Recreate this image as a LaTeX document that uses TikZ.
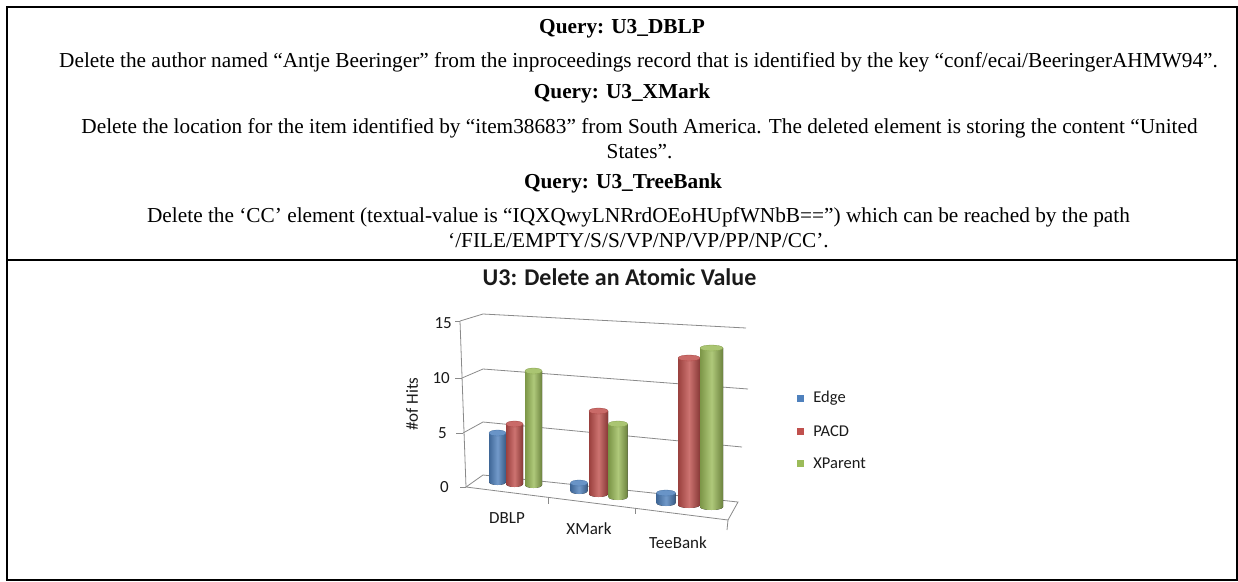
\documentclass[tikz,border=0pt]{standalone}
\usepackage{fontspec}
\setmainfont{Liberation Serif}
\newfontfamily\chartfont{Carlito}
\usetikzlibrary{positioning}
\definecolor{edgeblue}{HTML}{4F81BD}
\definecolor{pacdred}{HTML}{C0504D}
\definecolor{xpgreen}{HTML}{9BBB59}
\definecolor{gridgray}{HTML}{8A8A8A}
\definecolor{ink}{HTML}{1A1A1A}
% one cylinder: centre x, lowest y, highest y, half width, colour
\newcommand{\cyl}[5]{%
  \fill[left color=#5!80!black, right color=#5!70!black, middle color=#5!80!white]
    (#1-#4,#3+3) -- (#1-#4,#2-3) arc[start angle=180, end angle=360, x radius=#4pt, y radius=3pt]
    -- (#1+#4,#3+3) -- cycle;
  \filldraw[fill=#5!85!white, draw=#5!85!black, line width=0.3pt] (#1,#3+3) ellipse[x radius=#4pt, y radius=3pt];
}

\begin{document}
\begin{tikzpicture}[x=1pt, y=-1pt,
    qhead/.style={font=\fontsize{21.3}{25}\selectfont\bfseries, inner sep=0pt},
    qbody/.style={font=\fontsize{21.3}{25}\selectfont, align=center, inner sep=0pt},
    grid/.style={gridgray, line width=0.8pt},
    tick/.style={font=\chartfont\fontsize{17}{20}\selectfont, text=ink, inner sep=0pt},
    legkey/.style={minimum size=7pt, inner sep=0pt},
    legtext/.style={font=\chartfont\fontsize{16.5}{20}\selectfont, text=ink, inner sep=0pt, anchor=west}]
  \useasboundingbox (0,0) rectangle (1238,581);

  % table frame
  \draw[line width=1.3pt] (7,7) rectangle (1237,580);
  \draw[line width=1.3pt] (7,260) -- (1237,260);

  % query descriptions
  \node[qhead] (q1) at (622,29) {Query: U3\_DBLP};
  \node[qbody] (d1) at (638.5,62) {Delete the author named “Antje Beeringer” from the inproceedings record that is identified by the key “conf/ecai/BeeringerAHMW94”.};
  \node[qhead] (q2) at (622,93) {Query: U3\_XMark};
  \node[qbody] (d2) at (639.5,138.5) {Delete the location for the item identified by “item38683” from South America. The deleted element is storing the content “United\\ States”.};
  \node[qhead] (q3) at (623,183) {Query: U3\_TreeBank};
  \node[qbody] (d3) at (638.5,227.5) {Delete the ‘CC’ element (textual-value is “IQXQwyLNRrdOEoHUpfWNbB==”) which can be reached by the path\\ ‘/FILE/EMPTY/S/S/VP/NP/VP/PP/NP/CC’.};

  % chart
  \node[font=\chartfont\fontsize{24}{28}\selectfont\bfseries, text=ink, inner sep=0pt] (title) at (619.5,277) {U3: Delete an Atomic Value};

  % walls and floor
  \draw[grid] (460,321) -- (466,487);
  \draw[grid] (460,321) -- (483,314) -- (746,328);
  \draw[grid] (462,378) -- (483,369) -- (748,389);
  \draw[grid] (463,433) -- (483,422) -- (742,447);
  \draw[grid] (466,487) -- (483,475) -- (738,502) -- (728,520) -- cycle;
  \draw[grid] (455,321) -- (460,321);
  \draw[grid] (455,378) -- (462,378);
  \draw[grid] (456,433) -- (463,433);
  \draw[grid] (460,487) -- (466,487);
  \draw[grid] (548,498) -- (548,504);
  \draw[grid] (635,508) -- (635,514);
  \draw[grid] (728,520) -- (727,530);

  \node[tick, anchor=east] (v15) at (452,323) {15};
  \node[tick, anchor=east] (v10) at (450,378) {10};
  \node[tick, anchor=east] (v5) at (447,433) {5};
  \node[tick, anchor=east] (v0) at (449,487) {0};
  \node[tick, rotate=90] (ylab) at (412,404) {\#of Hits};

  % bars
  \cyl{497.5}{485}{430}{8.5}{edgeblue}
  \cyl{514.5}{487}{421}{8.5}{pacdred}
  \cyl{533.5}{488}{368}{8.5}{xpgreen}
  \cyl{579}{494}{480}{8.5}{edgeblue}
  \cyl{598.5}{497}{408}{9.5}{pacdred}
  \cyl{618}{500}{421}{9.5}{xpgreen}
  \cyl{666}{506}{490}{9.5}{edgeblue}
  \cyl{689}{508}{355}{11}{pacdred}
  \cyl{711.5}{510}{345}{11.5}{xpgreen}

  \node[tick] (c1) at (507,518) {DBLP};
  \node[tick] (c2) at (589,529) {XMark};
  \node[tick] (c3) at (678,543) {TeeBank};

  % legend
  \node[legkey, fill=edgeblue] (k1) at (800.5,398) {};
  \node[legtext, right=9pt of k1] (l1) {Edge};
  \node[legkey, fill=pacdred] (k2) at (800.5,431) {};
  \node[legtext, right=9pt of k2] (l2) {PACD};
  \node[legkey, fill=xpgreen] (k3) at (800.5,463) {};
  \node[legtext, right=9pt of k3] (l3) {XParent};
\end{tikzpicture}
\end{document}
